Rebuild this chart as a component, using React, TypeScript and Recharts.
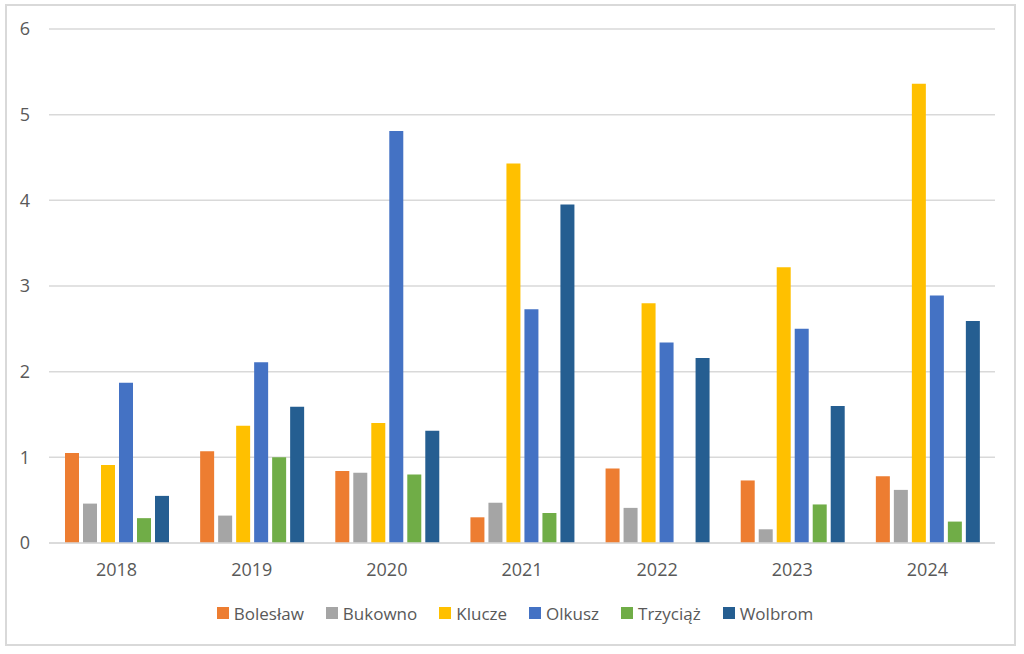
import React from 'react'
import { BarChart, Bar, XAxis, YAxis, CartesianGrid, Legend } from 'recharts'

const years = ['2018', '2019', '2020', '2021', '2022', '2023', '2024']
const boleslaw = [1.05, 1.07, 0.84, 0.3, 0.87, 0.73, 0.78]
const bukowno = [0.46, 0.32, 0.82, 0.47, 0.41, 0.16, 0.62]
const klucze = [0.91, 1.37, 1.4, 4.43, 2.8, 3.22, 5.36]
const olkusz = [1.87, 2.11, 4.81, 2.73, 2.34, 2.5, 2.89]
const trzyciaz = [0.29, 1.0, 0.8, 0.35, null, 0.45, 0.25]
const wolbrom = [0.55, 1.59, 1.31, 3.95, 2.16, 1.6, 2.59]
const yTicks = [0, 1, 2, 3, 4, 5, 6]

const series = [
  { key: 'Bolesław', values: boleslaw, color: '#ED7D31' },
  { key: 'Bukowno', values: bukowno, color: '#A5A5A5' },
  { key: 'Klucze', values: klucze, color: '#FFC000' },
  { key: 'Olkusz', values: olkusz, color: '#4472C4' },
  { key: 'Trzyciąż', values: trzyciaz, color: '#70AD47' },
  { key: 'Wolbrom', values: wolbrom, color: '#255E91' }
]

const data = years.map((year, i) => {
  const row: Record<string, string | number | null> = { year }
  series.forEach(s => {
    row[s.key] = s.values[i]
  })
  return row
})

const FONT = '"Open Sans", sans-serif'
const TEXT = '#595959'

// legend drawn as a simple flex row, like Excel's
const renderLegend = () => (
  <div
    style={{
      display: 'flex',
      justifyContent: 'center',
      paddingLeft: 6,
      height: 24,
      fontFamily: FONT,
      fontSize: 17,
      color: TEXT
    }}
  >
    {series.map((s, i) => (
      <div
        key={s.key}
        style={{
          display: 'flex',
          alignItems: 'center',
          marginRight: i === series.length - 1 ? 0 : 22
        }}
      >
        <span style={{ width: 12, height: 12, background: s.color, marginRight: 5 }} />
        <span>{s.key}</span>
      </div>
    ))}
  </div>
)

export default function App() {
  return (
    <div style={{ position: 'absolute', left: 0, top: 0, width: 1024, height: 654, background: '#fff' }}>
      <div
        style={{
          position: 'absolute',
          left: 5,
          top: 4,
          width: 1011,
          height: 642,
          border: '2px solid #d9d9d9',
          boxSizing: 'border-box'
        }}
      />
      <BarChart
        width={1024}
        height={654}
        data={data}
        margin={{ top: 29, right: 29, left: 0, bottom: 57 }}
        barSize={14}
        barGap={4}
        style={{ position: 'absolute', left: 0, top: 0 }}
      >
        <CartesianGrid vertical={false} stroke="#d9d9d9" strokeWidth={1.5} />
        <XAxis
          dataKey="year"
          axisLine={{ stroke: '#d9d9d9', strokeWidth: 1.5 }}
          tickLine={false}
          tickMargin={14}
          tick={{ fill: TEXT, fontSize: 18, fontFamily: FONT }}
        />
        <YAxis
          width={49}
          domain={[0, 6]}
          ticks={yTicks}
          axisLine={false}
          tickLine={false}
          tickMargin={13}
          tick={{ fill: TEXT, fontSize: 18, fontFamily: FONT }}
        />
        <Legend
          content={renderLegend}
          wrapperStyle={{ top: 601, left: 0, width: 1024 }}
        />
        {series.map(s => (
          <Bar key={s.key} dataKey={s.key} fill={s.color} isAnimationActive={false} />
        ))}
      </BarChart>
    </div>
  )
}
